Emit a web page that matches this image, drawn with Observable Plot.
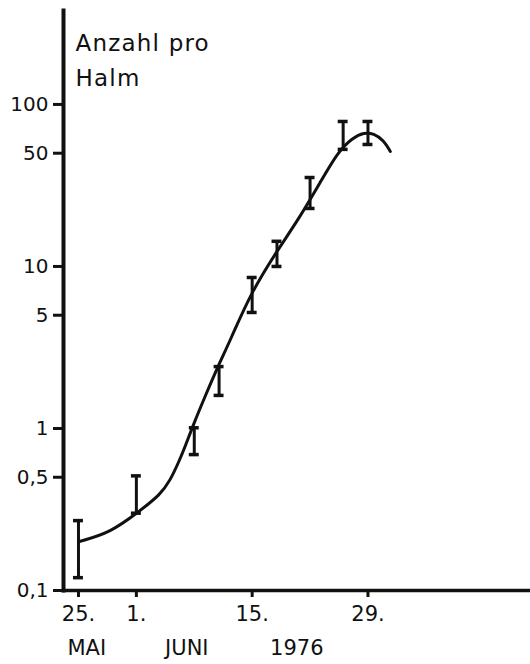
<!DOCTYPE html>
<html><head><meta charset="utf-8">
<script src="https://cdn.jsdelivr.net/npm/d3@7"></script>
<script src="https://cdn.jsdelivr.net/npm/@observablehq/plot@0.6"></script>
<style>body{margin:0;background:#fff}</style>
</head><body><div id="chart"></div>
<script>
// Days counted from 25 May 1976
const barDay   = [0, 7, 14, 17, 21, 24, 28, 32, 35];
const barLow   = [0.12, 0.30, 0.69, 1.6, 5.2, 10.0, 22.8, 52.8, 56.6];
const barHigh  = [0.27, 0.51, 1.01, 2.41, 8.55, 14.3, 35.4, 78.5, 78.5];
const curveDay   = [0, 3.9, 7.3, 9.9, 11.1, 12.1, 12.9, 13.9, 15.4, 16.8, 18.4, 20.8, 24.1, 26.6, 29.3, 31.4, 33.2, 34.5, 35.7, 36.9, 37.7];
const curveValue = [0.2, 0.228, 0.307, 0.39, 0.48, 0.617, 0.774, 1.06, 1.62, 2.38, 3.54, 6.81, 12.7, 19.5, 33.5, 51.3, 62.5, 67.1, 66.2, 60.0, 51.3];
const yTicks = [0.1, 0.5, 1, 5, 10, 50, 100];
const yTickLabels = ["0,1", "0,5", "1", "5", "10", "50", "100"];
const xTicks = [0, 7, 21, 35];
const xTickLabels = ["25.", "1.", "15.", "29."];
const periodDay = [1, 13.1, 26.4];
const periodLabels = ["MAI", "JUNI", "1976"];
const titleText = "Anzahl pro\nHalm";

const bars = barDay.map((d, i) => ({day: d, low: barLow[i], high: barHigh[i]}));
const curve = curveDay.map((d, i) => ({day: d, value: curveValue[i]}));
const periods = periodLabels.map((t, i) => ({day: periodDay[i], text: t}));

const ink = "#111";
const plot = Plot.plot({
  width: 530, height: 664,
  marginLeft: 63, marginRight: 0, marginTop: 10, marginBottom: 74,
  style: {fontFamily: "DejaVu Sans, sans-serif", fontSize: "20px", color: ink, background: "#fff"},
  x: {domain: [-1.81, 54.65], axis: null},
  y: {type: "log", domain: [0.1, 380], axis: null},
  marks: [
    Plot.axisY(yTicks, {tickSize: 10, tickPadding: 5, strokeWidth: 3, fontSize: 20,
      tickFormat: d => yTickLabels[yTicks.indexOf(d)], label: null}),
    Plot.axisX(xTicks, {tickSize: 7, tickPadding: 9, strokeWidth: 3, fontSize: 21,
      tickFormat: d => xTickLabels[xTicks.indexOf(d)], label: null}),
    Plot.text(periods, {x: "day", text: "text", frameAnchor: "bottom", dy: 58, fontSize: 21, lineAnchor: "middle", fill: ink}),
    Plot.frame({anchor: "left", stroke: ink, strokeWidth: 4}),
    Plot.frame({anchor: "bottom", stroke: ink, strokeWidth: 3.5}),
    Plot.text([titleText], {frameAnchor: "top-left", dx: 12, dy: 15, lineAnchor: "top", lineHeight: 1.55, fontSize: 23, textAnchor: "start", fill: ink}),
    Plot.ruleX(bars, {x: "day", y1: "low", y2: "high", stroke: ink, strokeWidth: 3}),
    Plot.ruleY(bars, {y: "high", x1: d => d.day - 0.6, x2: d => d.day + 0.6, stroke: ink, strokeWidth: 3.5}),
    Plot.ruleY(bars, {y: "low", x1: d => d.day - 0.6, x2: d => d.day + 0.6, stroke: ink, strokeWidth: 3.5}),
    Plot.line(curve, {x: "day", y: "value", curve: "basis", stroke: ink, strokeWidth: 3})
  ]
});
document.getElementById("chart").append(plot);
// wider lettering, like the stencil font of the original
plot.querySelectorAll("text").forEach(t => {
  if (t.textContent.startsWith("Anzahl")) t.setAttribute("letter-spacing", "1.2");
});
</script>
</body></html>
